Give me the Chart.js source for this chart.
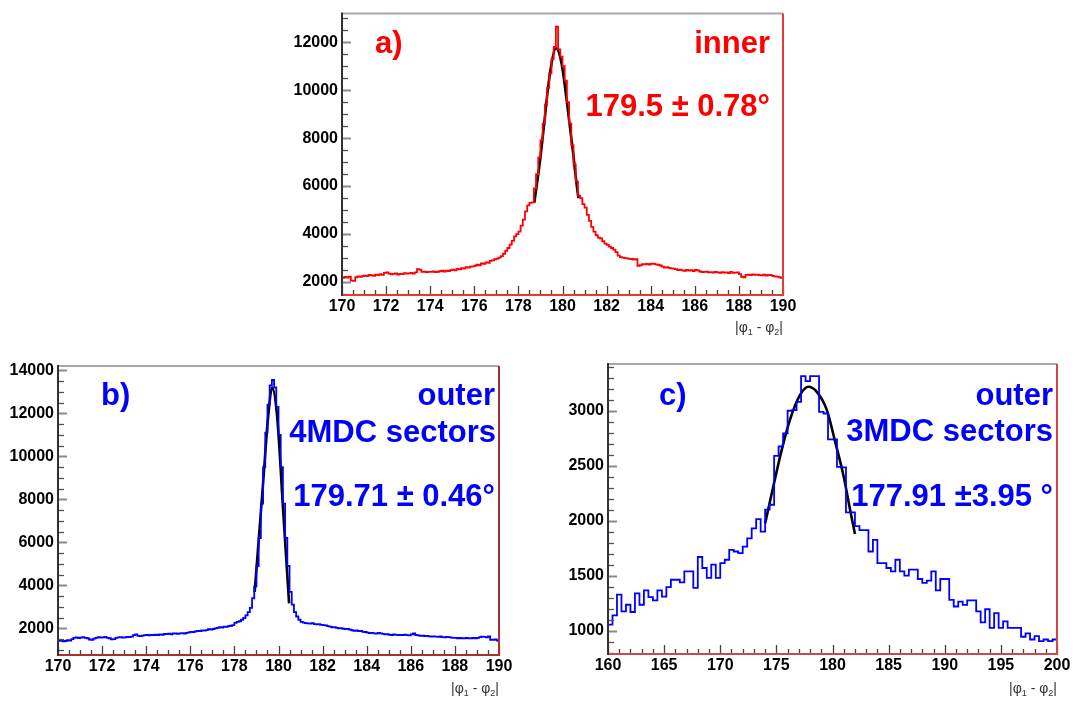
<!DOCTYPE html>
<html>
<head>
<meta charset="utf-8">
<script src="https://cdn.jsdelivr.net/npm/chart.js@4.4.0/dist/chart.umd.min.js"></script>
<style>
  body { margin: 0; background: #fff; width: 1075px; height: 702px; position: relative; overflow: hidden; }
  canvas { position: absolute; }
</style>
</head>
<body>
<canvas id="grafA" width="520" height="340" style="left:280px;top:0"></canvas>
<canvas id="grafB" width="520" height="352" style="left:0;top:350px"></canvas>
<canvas id="grafC" width="535" height="352" style="left:540px;top:350px"></canvas>
<script>
// |phi1 - phi2| histograms, 0.1 deg bins for a) and b), 0.4 deg bins for c)
const inicioA = 170, anchoA = 0.1;
const cuentasA = [
  2180, 2210, 2190, 2230, 2060, 2050, 2200, 2240, 2220, 2250,
  2270, 2250, 2300, 2280, 2260, 2310, 2290, 2330, 2300, 2380,
  2400, 2350, 2320, 2340, 2360, 2310, 2340, 2330, 2370, 2350,
  2360, 2380, 2350, 2400, 2540, 2520, 2420, 2430, 2410, 2420,
  2420, 2440, 2410, 2430, 2450, 2470, 2440, 2480, 2460, 2500,
  2520, 2490, 2550, 2530, 2580, 2560, 2620, 2600, 2640, 2650,
  2680, 2720, 2700, 2780, 2760, 2820, 2800, 2880, 2900, 2950,
  2980, 3020, 3080, 3180, 3300, 3420, 3560, 3720, 3900, 4000,
  4100, 4350, 4600, 4950, 5200, 5300, 5320, 5900, 6500, 7200,
  7900, 8600, 9400, 10100, 10700, 11300, 11800, 12650, 11700, 11400,
  11000, 10400, 9500, 8600, 7700, 6900, 6200, 5600, 5500, 5250,
  5100, 4800, 4550, 4300, 4100, 3950, 3850, 3820, 3700, 3600,
  3550, 3480, 3420, 3350, 3250, 3100, 3040, 3020, 3000, 2990,
  2970, 2960, 2940, 2950, 2680, 2700, 2750, 2740, 2760, 2730,
  2770, 2760, 2740, 2720, 2690, 2640, 2600, 2620, 2590, 2570,
  2560, 2540, 2500, 2520, 2490, 2470, 2510, 2480, 2500, 2460,
  2510, 2490, 2440, 2410, 2420, 2430, 2400, 2410, 2390, 2420,
  2400, 2380, 2410, 2390, 2400, 2370, 2420, 2380, 2390, 2400,
  2330, 2220, 2200, 2300, 2310, 2290, 2320, 2300, 2310, 2290,
  2280, 2310, 2270, 2300, 2290, 2260, 2240, 2230, 2200, 2180
];
const ajusteAx = [178.72, 178.98, 179.13, 179.43, 179.71, 179.96, 180.22, 180.49, 180.6, 180.72];
const ajusteAy = [5300, 7050, 8270, 10690, 11745, 11100, 9350, 7320, 6380, 5500];

const inicioB = 170, anchoB = 0.1;
const cuentasB = [
  1420, 1440, 1400, 1410, 1450, 1430, 1500, 1560, 1580, 1550,
  1570, 1590, 1560, 1540, 1480, 1470, 1520, 1560, 1590, 1570,
  1580, 1600, 1560, 1540, 1490, 1500, 1560, 1580, 1590, 1570,
  1580, 1600, 1590, 1610, 1680, 1720, 1650, 1640, 1660, 1680,
  1690, 1670, 1700, 1690, 1710, 1690, 1720, 1700, 1740, 1730,
  1750, 1720, 1770, 1760, 1740, 1770, 1780, 1760, 1790, 1810,
  1840, 1820, 1860, 1880, 1870, 1900, 1890, 1920, 1960, 1940,
  1970, 2000, 2020, 2050, 2040, 2080, 2070, 2100, 2120, 2150,
  2250, 2300, 2330, 2400, 2480, 2600, 2750, 2950, 3400, 3950,
  4900, 6200, 7800, 9500, 11100, 12400, 13300, 13550, 13200, 12300,
  11000, 9500, 7800, 6200, 4900, 3700, 3100, 2750, 2550, 2400,
  2300, 2270, 2240, 2230, 2220, 2240, 2200, 2180, 2190, 2160,
  2150, 2140, 2100, 2080, 2050, 2060, 2020, 2000, 2010, 1980,
  1960, 1970, 1940, 1910, 1880, 1900, 1870, 1880, 1840, 1830,
  1800, 1780, 1790, 1770, 1760, 1790, 1770, 1740, 1720, 1730,
  1700, 1690, 1720, 1700, 1680, 1700, 1690, 1710, 1680, 1670,
  1720, 1760, 1690, 1670, 1650, 1660, 1640, 1650, 1630, 1620,
  1630, 1610, 1600, 1620, 1590, 1580, 1600, 1590, 1570, 1560,
  1560, 1540, 1550, 1530, 1540, 1560, 1530, 1540, 1550, 1540,
  1560, 1590, 1610, 1600, 1580, 1620, 1460, 1470, 1480, 1430
];
const ajusteBx = [178.92, 179.3, 179.53, 179.71, 179.94, 180.21, 180.48];
const ajusteBy = [3700, 8735, 11830, 13195, 11830, 7495, 3160];

const inicioC = 160, anchoC = 0.4;
const cuentasC = [
  1055, 1140, 1327, 1175, 1236, 1170, 1340, 1236, 1366, 1305,
  1275, 1366, 1310, 1396, 1463, 1463, 1440, 1540, 1540, 1390,
  1670, 1570, 1480, 1600, 1480, 1615, 1645, 1735, 1720, 1705,
  1765, 1840, 1930, 2015, 1900, 2100, 2145, 2590, 2675, 2795,
  3000, 3005, 3080, 3315, 3270, 3315, 3315, 2990, 2975, 2740,
  2740, 2490, 2485, 2075, 2075, 1950, 1915, 1915, 1720, 1825,
  1615, 1615, 1570, 1540, 1645, 1540, 1500, 1555, 1555, 1470,
  1435, 1455, 1540, 1366, 1470, 1470, 1280, 1220, 1265, 1235,
  1275, 1275, 1175, 1075, 1195, 1025, 1160, 1025, 1085, 1025,
  1025, 1025, 945, 975, 920, 950, 905, 920, 905, 920
];
const ajusteCx = [174.0, 174.72, 175.47, 176.2, 177.1, 177.85, 178.6, 179.5, 180.2, 181.0, 181.57, 182.0];
const ajusteCy = [1976, 2309, 2642, 2915, 3142, 3218, 3172, 3006, 2733, 2400, 2097, 1879];

// tick labels
const ticksXA = [170, 172, 174, 176, 178, 180, 182, 184, 186, 188, 190];
const ticksYA = [2000, 4000, 6000, 8000, 10000, 12000];
const ticksXB = [170, 172, 174, 176, 178, 180, 182, 184, 186, 188, 190];
const ticksYB = [2000, 4000, 6000, 8000, 10000, 12000, 14000];
const ticksXC = [160, 165, 170, 175, 180, 185, 190, 195, 200];
const ticksYC = [1000, 1500, 2000, 2500, 3000];

const ROJO = '#ff0000';
const AZUL = '#0000ff';
const FUENTE = '"Liberation Sans", Arial, Helvetica, sans-serif';

function puntosHisto(inicio, ancho, cuentas) {
  const pts = cuentas.map((c, i) => ({ x: inicio + i * ancho, y: c }));
  pts.push({ x: inicio + cuentas.length * ancho, y: cuentas[cuentas.length - 1] });
  return pts;
}

function puntosAjuste(xs, ys) {
  return xs.map((x, i) => ({ x: x, y: ys[i] }));
}

// frame, inward ticks, labels and the |phi1 - phi2| title, drawn in ROOT style
function marcoRoot(cfg) {
  return {
    id: 'marcoRoot',
    afterDraw(chart) {
      const { ctx, chartArea: a, scales: { x, y } } = chart;
      ctx.save();
      ctx.lineCap = 'butt';

      // y minor + major ticks
      for (let v = Math.ceil(y.min / cfg.menorY) * cfg.menorY; v <= y.max; v += cfg.menorY) {
        const py = Math.round(y.getPixelForValue(v)) + 0.5;
        const mayor = cfg.ticksY.includes(v);
        ctx.strokeStyle = mayor ? '#8a8a8a' : '#505050';
        ctx.lineWidth = mayor ? 2 : 1.3;
        ctx.beginPath();
        ctx.moveTo(a.left, py);
        ctx.lineTo(a.left + (mayor ? 9 : 6), py);
        ctx.stroke();
      }
      // x minor + major ticks
      for (let v = Math.ceil(x.min / cfg.menorX) * cfg.menorX; v <= x.max + 1e-9; v += cfg.menorX) {
        const vv = Math.round(v * 100) / 100;
        const px = Math.round(x.getPixelForValue(vv)) + 0.5;
        const mayor = cfg.ticksX.includes(vv);
        ctx.strokeStyle = '#404040';
        ctx.lineWidth = 1.3;
        ctx.beginPath();
        ctx.moveTo(px, a.bottom);
        ctx.lineTo(px, a.bottom - (mayor ? 9 : 5));
        ctx.stroke();
      }

      // frame
      ctx.lineWidth = 2;
      ctx.strokeStyle = '#a8a8a8';
      ctx.beginPath(); ctx.moveTo(a.left, a.top); ctx.lineTo(a.right, a.top); ctx.stroke();
      ctx.strokeStyle = cfg.colorMarco;
      ctx.beginPath(); ctx.moveTo(a.right, a.top); ctx.lineTo(a.right, a.bottom); ctx.lineTo(a.left, a.bottom); ctx.stroke();
      ctx.strokeStyle = '#333';
      ctx.beginPath(); ctx.moveTo(a.left, a.top - 1); ctx.lineTo(a.left, a.bottom + 1); ctx.stroke();

      // annotations
      ctx.font = 'bold 31px ' + FUENTE;
      ctx.fillStyle = cfg.colorTexto;
      ctx.textBaseline = 'alphabetic';
      cfg.textos.forEach(t => {
        if (t.izq !== undefined) {
          ctx.textAlign = 'left';
          ctx.fillText(t.txt, a.left + t.izq, a.top + t.base);
        } else {
          ctx.textAlign = 'right';
          ctx.fillText(t.txt, a.right - t.der, a.top + t.base);
        }
      });

      // axis title |phi1 - phi2|
      const piezas = [['|\u03c6', 0, 14], ['1', 3, 9], [' - \u03c6', 0, 14], ['2', 3, 9], ['|', 0, 14]];
      ctx.fillStyle = '#333';
      ctx.textAlign = 'left';
      let total = 0;
      piezas.forEach(p => { ctx.font = p[2] + 'px ' + FUENTE; total += ctx.measureText(p[0]).width; });
      let cx = a.right - total;
      const base = a.bottom + cfg.tituloBase;
      piezas.forEach(p => {
        ctx.font = p[2] + 'px ' + FUENTE;
        ctx.fillText(p[0], cx, base + p[1]);
        cx += ctx.measureText(p[0]).width;
      });
      ctx.restore();
    }
  };
}

function crearPanel(id, d) {
  const lienzo = document.querySelector(id);
  return new Chart(lienzo, {
    type: 'line',
    data: {
      datasets: [
        {
          data: puntosHisto(d.inicio, d.ancho, d.cuentas),
          borderColor: d.color,
          borderWidth: 1.8,
          stepped: true,
          pointRadius: 0,
          fill: false
        },
        {
          data: puntosAjuste(d.ajX, d.ajY),
          borderColor: '#000',
          borderWidth: 2.6,
          cubicInterpolationMode: 'monotone',
          pointRadius: 0,
          fill: false
        }
      ]
    },
    options: {
      responsive: false,
      animation: false,
      layout: { padding: d.padding },
      plugins: { legend: { display: false }, tooltip: { enabled: false } },
      scales: {
        x: {
          type: 'linear',
          min: d.xMin, max: d.xMax,
          grid: { display: false, drawTicks: false },
          border: { display: false },
          afterBuildTicks: s => { s.ticks = d.ticksX.map(v => ({ value: v })); },
          afterFit: s => { s.height = d.altoX; },
          ticks: {
            autoSkip: false, maxRotation: 0, minRotation: 0, padding: 2,
            color: '#000',
            font: { family: FUENTE, weight: 'bold', size: 16 },
            callback: v => String(v)
          }
        },
        y: {
          type: 'linear',
          min: d.yMin, max: d.yMax,
          grid: { display: false, drawTicks: false },
          border: { display: false },
          afterBuildTicks: s => { s.ticks = d.ticksY.map(v => ({ value: v })); },
          afterFit: s => { s.width = d.anchoY; },
          ticks: {
            padding: 4,
            color: '#000',
            font: { family: FUENTE, weight: 'bold', size: 16 },
            callback: v => String(v)
          }
        }
      }
    },
    plugins: [marcoRoot({
      ticksX: d.ticksX, ticksY: d.ticksY,
      menorX: d.menorX, menorY: d.menorY,
      colorMarco: d.colorMarco, colorTexto: d.color,
      textos: d.textos, tituloBase: d.tituloBase
    })]
  });
}

crearPanel('#grafA', {
  inicio: inicioA, ancho: anchoA, cuentas: cuentasA, ajX: ajusteAx, ajY: ajusteAy,
  color: ROJO, colorMarco: '#e03a3a',
  xMin: 170, xMax: 190, yMin: 1460, yMax: 13190,
  ticksX: ticksXA, ticksY: ticksYA, menorX: 0.5, menorY: 500,
  padding: { top: 5, right: 17, left: 0, bottom: 0 }, anchoY: 62, altoX: 45,
  tituloBase: 37,
  textos: [
    { txt: 'a)', izq: 33, base: 39 },
    { txt: 'inner', der: 13, base: 39 },
    { txt: '179.5 \u00b1 0.78\u00b0', der: 13, base: 102 }
  ]
});

crearPanel('#grafB', {
  inicio: inicioB, ancho: anchoB, cuentas: cuentasB, ajX: ajusteBx, ajY: ajusteBy,
  color: AZUL, colorMarco: '#a83030',
  xMin: 170, xMax: 190, yMin: 760, yMax: 14200,
  ticksX: ticksXB, ticksY: ticksYB, menorX: 0.5, menorY: 500,
  padding: { top: 16, right: 21, left: 0, bottom: 0 }, anchoY: 58, altoX: 47,
  tituloBase: 38,
  textos: [
    { txt: 'b)', izq: 43, base: 39 },
    { txt: 'outer', der: 4, base: 39 },
    { txt: '4MDC sectors', der: 3, base: 76 },
    { txt: '179.71 \u00b1 0.46\u00b0', der: 4, base: 140 }
  ]
});

crearPanel('#grafC', {
  inicio: inicioC, ancho: anchoC, cuentas: cuentasC, ajX: ajusteCx, ajY: ajusteCy,
  color: AZUL, colorMarco: '#d04848',
  xMin: 160, xMax: 200, yMin: 788, yMax: 3425,
  ticksX: ticksXC, ticksY: ticksYC, menorX: 1, menorY: 100,
  padding: { top: 14, right: 18, left: 0, bottom: 0 }, anchoY: 68, altoX: 48,
  tituloBase: 39,
  textos: [
    { txt: 'c)', izq: 51, base: 41 },
    { txt: 'outer', der: 4, base: 41 },
    { txt: '3MDC sectors', der: 4, base: 77 },
    { txt: '177.91 \u00b13.95 \u00b0', der: 4, base: 142 }
  ]
});
</script>
</body>
</html>
